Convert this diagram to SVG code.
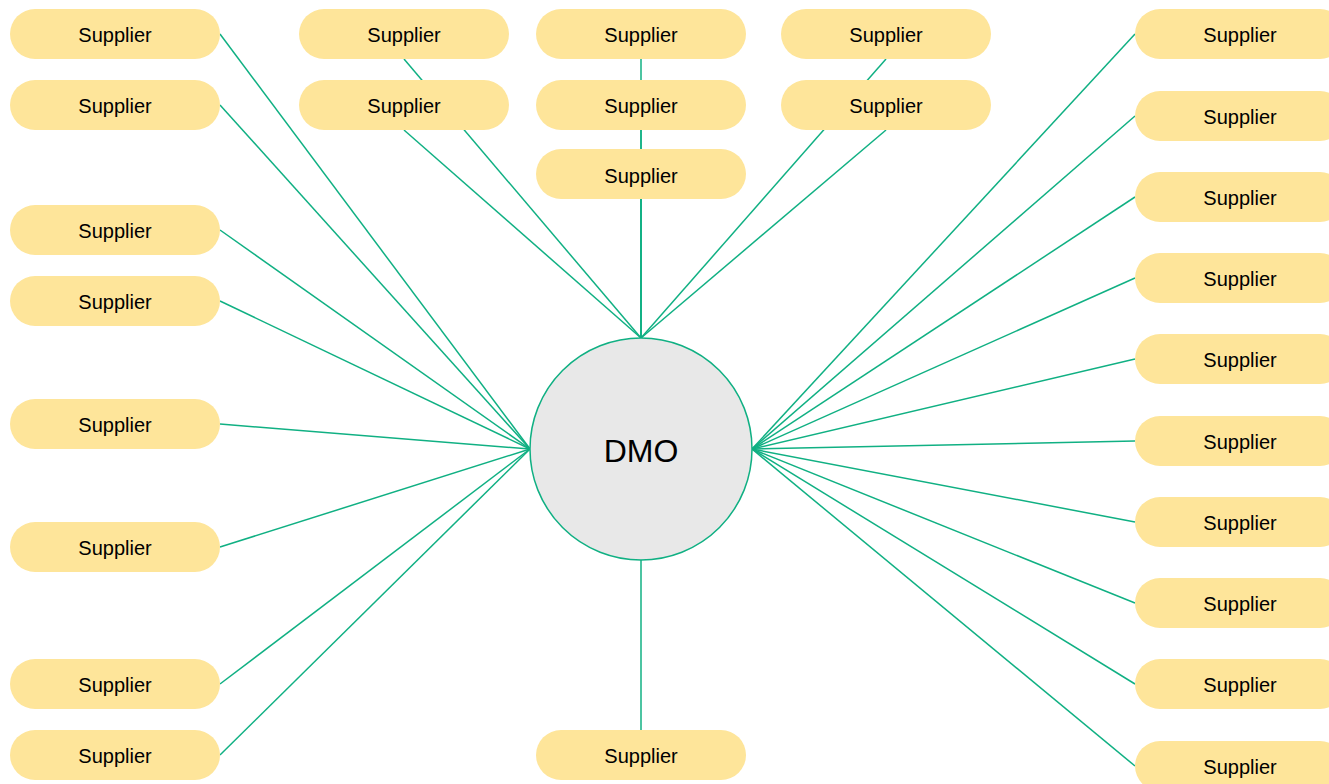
<svg xmlns="http://www.w3.org/2000/svg" width="1329" height="784" viewBox="0 0 1329 784">
<style>
.p{fill:#fee59a}
.t{font-family:"Liberation Sans",Arial,sans-serif;font-size:20px;fill:#000;text-anchor:middle;dominant-baseline:central}
.c line{stroke:#10b083;stroke-width:1.5}
</style>
<rect width="1329" height="784" fill="#fff"/>
<g class="c" id="connectors">
<line x1="220" y1="34" x2="530" y2="449"/>
<line x1="220" y1="105" x2="530" y2="449"/>
<line x1="220" y1="230" x2="530" y2="449"/>
<line x1="220" y1="301" x2="530" y2="449"/>
<line x1="220" y1="424" x2="530" y2="449"/>
<line x1="220" y1="547" x2="530" y2="449"/>
<line x1="220" y1="684" x2="530" y2="449"/>
<line x1="220" y1="755" x2="530" y2="449"/>
<line x1="404" y1="59" x2="641" y2="338"/>
<line x1="404" y1="130" x2="641" y2="338"/>
<line x1="641" y1="59" x2="641" y2="338"/>
<line x1="641" y1="130" x2="641" y2="338"/>
<line x1="641" y1="199" x2="641" y2="338"/>
<line x1="886" y1="59" x2="641" y2="338"/>
<line x1="886" y1="130" x2="641" y2="338"/>
<line x1="641" y1="559" x2="641" y2="730"/>
<line x1="1135" y1="34" x2="752" y2="449"/>
<line x1="1135" y1="116" x2="752" y2="449"/>
<line x1="1135" y1="197" x2="752" y2="449"/>
<line x1="1135" y1="278" x2="752" y2="449"/>
<line x1="1135" y1="359" x2="752" y2="449"/>
<line x1="1135" y1="441" x2="752" y2="449"/>
<line x1="1135" y1="522" x2="752" y2="449"/>
<line x1="1135" y1="603" x2="752" y2="449"/>
<line x1="1135" y1="684" x2="752" y2="449"/>
<line x1="1135" y1="766" x2="752" y2="449"/>
</g>
<g id="dmo"><circle cx="641" cy="449" r="111" fill="#e8e8e8" stroke="#10b083" stroke-width="1.5"/><text x="641" y="451" class="t" style="font-size:32px">DMO</text></g>
<g id="s-l1"><rect class="p" x="10" y="9" width="210" height="50" rx="25"/><text class="t" x="115" y="35">Supplier</text></g>
<g id="s-l2"><rect class="p" x="10" y="80" width="210" height="50" rx="25"/><text class="t" x="115" y="106">Supplier</text></g>
<g id="s-l3"><rect class="p" x="10" y="205" width="210" height="50" rx="25"/><text class="t" x="115" y="231">Supplier</text></g>
<g id="s-l4"><rect class="p" x="10" y="276" width="210" height="50" rx="25"/><text class="t" x="115" y="302">Supplier</text></g>
<g id="s-l5"><rect class="p" x="10" y="399" width="210" height="50" rx="25"/><text class="t" x="115" y="425">Supplier</text></g>
<g id="s-l6"><rect class="p" x="10" y="522" width="210" height="50" rx="25"/><text class="t" x="115" y="548">Supplier</text></g>
<g id="s-l7"><rect class="p" x="10" y="659" width="210" height="50" rx="25"/><text class="t" x="115" y="685">Supplier</text></g>
<g id="s-l8"><rect class="p" x="10" y="730" width="210" height="50" rx="25"/><text class="t" x="115" y="756">Supplier</text></g>
<g id="s-a1"><rect class="p" x="299" y="9" width="210" height="50" rx="25"/><text class="t" x="404" y="35">Supplier</text></g>
<g id="s-a2"><rect class="p" x="299" y="80" width="210" height="50" rx="25"/><text class="t" x="404" y="106">Supplier</text></g>
<g id="s-b1"><rect class="p" x="536" y="9" width="210" height="50" rx="25"/><text class="t" x="641" y="35">Supplier</text></g>
<g id="s-b2"><rect class="p" x="536" y="80" width="210" height="50" rx="25"/><text class="t" x="641" y="106">Supplier</text></g>
<g id="s-b3"><rect class="p" x="536" y="149" width="210" height="50" rx="25"/><text class="t" x="641" y="176">Supplier</text></g>
<g id="s-b4"><rect class="p" x="536" y="730" width="210" height="50" rx="25"/><text class="t" x="641" y="756">Supplier</text></g>
<g id="s-c1"><rect class="p" x="781" y="9" width="210" height="50" rx="25"/><text class="t" x="886" y="35">Supplier</text></g>
<g id="s-c2"><rect class="p" x="781" y="80" width="210" height="50" rx="25"/><text class="t" x="886" y="106">Supplier</text></g>
<g id="s-r1"><rect class="p" x="1135" y="9" width="210" height="50" rx="25"/><text class="t" x="1240" y="35">Supplier</text></g>
<g id="s-r2"><rect class="p" x="1135" y="91" width="210" height="50" rx="25"/><text class="t" x="1240" y="117">Supplier</text></g>
<g id="s-r3"><rect class="p" x="1135" y="172" width="210" height="50" rx="25"/><text class="t" x="1240" y="198">Supplier</text></g>
<g id="s-r4"><rect class="p" x="1135" y="253" width="210" height="50" rx="25"/><text class="t" x="1240" y="279">Supplier</text></g>
<g id="s-r5"><rect class="p" x="1135" y="334" width="210" height="50" rx="25"/><text class="t" x="1240" y="360">Supplier</text></g>
<g id="s-r6"><rect class="p" x="1135" y="416" width="210" height="50" rx="25"/><text class="t" x="1240" y="442">Supplier</text></g>
<g id="s-r7"><rect class="p" x="1135" y="497" width="210" height="50" rx="25"/><text class="t" x="1240" y="523">Supplier</text></g>
<g id="s-r8"><rect class="p" x="1135" y="578" width="210" height="50" rx="25"/><text class="t" x="1240" y="604">Supplier</text></g>
<g id="s-r9"><rect class="p" x="1135" y="659" width="210" height="50" rx="25"/><text class="t" x="1240" y="685">Supplier</text></g>
<g id="s-r10"><rect class="p" x="1135" y="741" width="210" height="50" rx="25"/><text class="t" x="1240" y="767">Supplier</text></g>
</svg>
